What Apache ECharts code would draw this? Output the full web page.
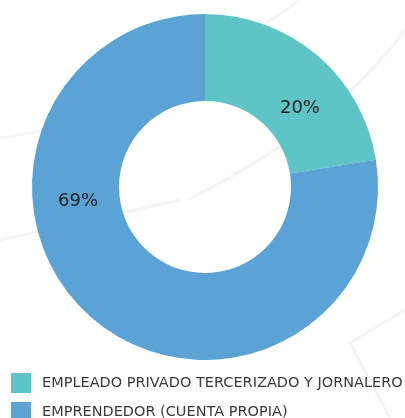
<!DOCTYPE html>
<html>
<head>
<meta charset="utf-8">
<script src="https://cdn.jsdelivr.net/npm/echarts@6/dist/echarts.min.js"></script>
<style>
  html, body { margin: 0; padding: 0; background: #ffffff; }
  #chart { width: 405px; height: 418px; }
</style>
</head>
<body>
<div id="chart"></div>
<script>
const categories = ['EMPLEADO PRIVADO TERCERIZADO Y JORNALERO', 'EMPRENDEDOR (CUENTA PROPIA)']
const values = [20, 69]
const colors = ['#5fc4c6', '#5ba3d4']
// nudges so the labels sit where the original put them
const labelOffsets = [[9, 22], [-41, -87]]

const chart = echarts.init(document.getElementById('chart'))

const bgLine = { stroke: '#f4f6f6', lineWidth: 3, fill: null }

const option = {
  backgroundColor: '#ffffff',
  animation: false,
  color: colors,
  graphic: [
    { type: 'bezierCurve', z: 0, silent: true, shape: { x1: 405, y1: 30, x2: 187, y2: 200, cpx1: 330, cpy1: 130 }, style: bgLine },
    { type: 'bezierCurve', z: 0, silent: true, shape: { x1: 300, y1: 0, x2: 240, y2: 40, cpx1: 275, cpy1: 18 }, style: bgLine },
    { type: 'polyline', z: 0, silent: true, shape: { points: [[0, 138], [60, 128]] }, style: bgLine },
    { type: 'polyline', z: 0, silent: true, shape: { points: [[0, 240], [180, 200]] }, style: bgLine },
    { type: 'polyline', z: 0, silent: true, shape: { points: [[405, 310], [350, 343], [390, 418]] }, style: bgLine }
  ],
  legend: {
    orient: 'vertical',
    left: 6,
    top: 368,
    height: 80,
    itemWidth: 20,
    itemHeight: 20,
    itemGap: 9,
    icon: 'rect',
    data: categories,
    textStyle: {
      color: '#3a3a3a',
      fontFamily: 'DejaVu Sans',
      fontSize: 14.5,
      padding: [0, 0, 0, 6]
    }
  },
  series: [
    {
      type: 'pie',
      center: [205, 187],
      radius: [86, 173],
      startAngle: 90,
      clockwise: true,
      avoidLabelOverlap: false,
      label: {
        show: true,
        position: 'inside',
        formatter: '{c}%',
        color: '#222222',
        fontFamily: 'DejaVu Sans',
        fontSize: 18
      },
      labelLine: { show: false },
      emphasis: { disabled: true },
      data: categories.map((name, i) => ({
        name,
        value: values[i],
        label: { offset: labelOffsets[i] }
      }))
    }
  ]
}

chart.setOption(option)
</script>
</body>
</html>
